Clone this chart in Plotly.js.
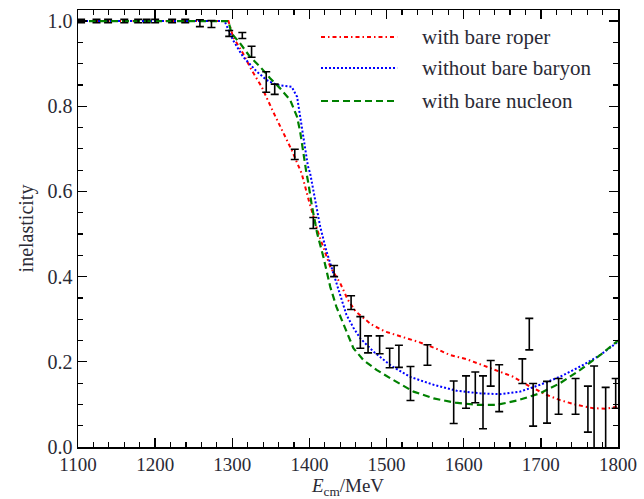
<!DOCTYPE html>
<html>
<head>
<meta charset="utf-8">
<script src="https://cdn.plot.ly/plotly-3.0.1.min.js"></script>
<style>html,body{margin:0;padding:0;background:#fff;}#chart{width:644px;height:499px;}</style>
</head>
<body>
<div id="chart"></div>
<script>
// Curve: with bare roper
const roperE = [1100, 1295, 1301, 1314, 1325, 1338, 1353, 1366, 1377, 1390, 1399, 1411, 1427, 1440, 1450, 1460, 1470, 1480, 1498, 1520, 1541, 1563, 1582, 1604, 1625, 1647, 1664, 1686, 1708, 1725, 1746, 1768, 1785, 1800];
const roperV = [1.0, 1.0, 0.963, 0.924, 0.885, 0.846, 0.787, 0.738, 0.697, 0.642, 0.58, 0.505, 0.423, 0.384, 0.345, 0.318, 0.302, 0.288, 0.271, 0.259, 0.247, 0.232, 0.216, 0.206, 0.192, 0.178, 0.165, 0.142, 0.122, 0.110, 0.099, 0.091, 0.09, 0.095];

// Curve: without bare baryon
const noBareE = [1100, 1290, 1301, 1314, 1332, 1345, 1358, 1377, 1384, 1388, 1392, 1398, 1401, 1407, 1414, 1422, 1431, 1440, 1448, 1457, 1466, 1483, 1505, 1530, 1561, 1591, 1621, 1647, 1673, 1699, 1725, 1751, 1777, 1800];
const noBareV = [1.0, 1.0, 0.955, 0.916, 0.881, 0.861, 0.85, 0.846, 0.822, 0.775, 0.72, 0.66, 0.642, 0.58, 0.517, 0.46, 0.41, 0.355, 0.31, 0.28, 0.255, 0.224, 0.192, 0.165, 0.146, 0.132, 0.126, 0.124, 0.130, 0.146, 0.165, 0.189, 0.216, 0.247];

// Curve: with bare nucleon
const nucE = [1100, 1295, 1299, 1310, 1323, 1336, 1349, 1362, 1375, 1384, 1388, 1392, 1396, 1399, 1403, 1410, 1418, 1427, 1435, 1442, 1457, 1470, 1487, 1509, 1535, 1561, 1589, 1617, 1643, 1669, 1699, 1725, 1751, 1777, 1800];
const nucV = [1.0, 1.0, 0.971, 0.948, 0.916, 0.893, 0.866, 0.842, 0.815, 0.775, 0.74, 0.69, 0.645, 0.615, 0.568, 0.502, 0.447, 0.376, 0.329, 0.298, 0.232, 0.204, 0.181, 0.157, 0.130, 0.114, 0.104, 0.099, 0.099, 0.109, 0.126, 0.150, 0.181, 0.216, 0.25];

// Data points with error bars
const dataE = [1104, 1124, 1139, 1160, 1178, 1189, 1200, 1222, 1239, 1258, 1273, 1296, 1313, 1325, 1344, 1355, 1381, 1405, 1432, 1454, 1466, 1476, 1491, 1504, 1516, 1531, 1553, 1587, 1603, 1615, 1625, 1635, 1646, 1676, 1685, 1690, 1708, 1723, 1745, 1761, 1769, 1784, 1797];
const dataV = [1.0, 1.0, 1.0, 1.0, 1.0, 1.0, 1.0, 1.0, 1.0, 0.995, 0.993, 0.971, 0.966, 0.928, 0.857, 0.840, 0.687, 0.526, 0.413, 0.339, 0.269, 0.241, 0.240, 0.209, 0.213, 0.149, 0.216, 0.105, 0.129, 0.140, 0.105, 0.173, 0.138, 0.178, 0.265, 0.099, 0.105, 0.119, 0.119, 0.089, 0.06, 0.02, 0.126];
const dataErr = [0.004, 0.004, 0.004, 0.004, 0.004, 0.004, 0.004, 0.004, 0.004, 0.008, 0.008, 0.007, 0.007, 0.013, 0.024, 0.012, 0.012, 0.013, 0.013, 0.016, 0.037, 0.020, 0.021, 0.023, 0.026, 0.040, 0.024, 0.050, 0.038, 0.036, 0.062, 0.030, 0.055, 0.029, 0.037, 0.050, 0.049, 0.042, 0.042, 0.054, 0.13, 0.12, 0.035];

const seriesNames = ["with bare roper", "without bare baryon", "with bare nucleon"];
const xTickVals = [1100, 1200, 1300, 1400, 1500, 1600, 1700, 1800];
const yTickVals = [0.0, 0.2, 0.4, 0.6, 0.8, 1.0];

const FONT = "'Liberation Serif', 'Times New Roman', serif";
const TXT = "#2a2a35";
const styles = [
  {color: "#ff0000", dash: "4px,3px,1.5px,3px"},
  {color: "#0000ff", dash: "2px,2px"},
  {color: "#008000", dash: "7px,4px"}
];

const traces = [
  {x: roperE, y: roperV, mode: "lines", name: seriesNames[0], line: {color: styles[0].color, dash: styles[0].dash, width: 2}, showlegend: false},
  {x: noBareE, y: noBareV, mode: "lines", name: seriesNames[1], line: {color: styles[1].color, dash: styles[1].dash, width: 2}, showlegend: false},
  {x: nucE, y: nucV, mode: "lines", name: seriesNames[2], line: {color: styles[2].color, dash: styles[2].dash, width: 2.2}, showlegend: false},
  {x: dataE, y: dataV, mode: "markers", name: "data", marker: {size: 0.1, color: "#000"},
   error_y: {type: "data", array: dataErr, visible: true, color: "#000", thickness: 1.6, width: 4}, showlegend: false}
];

// Hand-made legend (long line samples as in the reference)
const legRowsY = [0.938, 0.867, 0.792];
const shapes = [];
const annotations = [];
seriesNames.forEach((nm, i) => {
  shapes.push({type: "line", xref: "paper", yref: "paper", x0: 0.45, x1: 0.591, y0: legRowsY[i], y1: legRowsY[i],
    line: {color: styles[i].color, dash: styles[i].dash, width: 2}});
  annotations.push({xref: "paper", yref: "paper", x: 0.633, y: legRowsY[i], xanchor: "left", yanchor: "middle",
    text: nm, showarrow: false, font: {family: FONT, size: 21, color: TXT}});
});

const axisCommon = {
  showgrid: false, zeroline: false, showline: true, linecolor: "#000", linewidth: 1.5,
  mirror: "allticks", ticks: "inside", ticklen: 9, tickwidth: 1.3, tickcolor: "#000",
  tickfont: {family: FONT, size: 20, color: TXT}
};

const layout = {
  width: 644, height: 499,
  margin: {l: 78, r: 26, t: 10, b: 52},
  paper_bgcolor: "#fff", plot_bgcolor: "#fff",
  showlegend: false,
  xaxis: Object.assign({}, axisCommon, {
    range: [1100, 1800], tickmode: "array", tickvals: xTickVals, ticktext: xTickVals.map(String),
    tickfont: {family: FONT, size: 19, color: TXT},
    minor: {ticks: "inside", dtick: 20, tick0: 1100, ticklen: 5, tickwidth: 1.2, tickcolor: "#000"},
    title: {text: "<i>E</i><sub>cm</sub>/MeV", font: {family: FONT, size: 19, color: TXT}, standoff: 3}
  }),
  yaxis: Object.assign({}, axisCommon, {
    range: [0, 1.026], tickmode: "array", tickvals: yTickVals, ticktext: yTickVals.map(v => v.toFixed(1)),
    minor: {ticks: "inside", dtick: 0.05, tick0: 0, ticklen: 5, tickwidth: 1.2, tickcolor: "#000"},
    title: {text: "inelasticity", font: {family: FONT, size: 20, color: TXT}, standoff: 8}
  }),
  shapes: shapes,
  annotations: annotations
};

Plotly.newPlot("chart", traces, layout, {displayModeBar: false, staticPlot: true});
</script>
</body>
</html>
